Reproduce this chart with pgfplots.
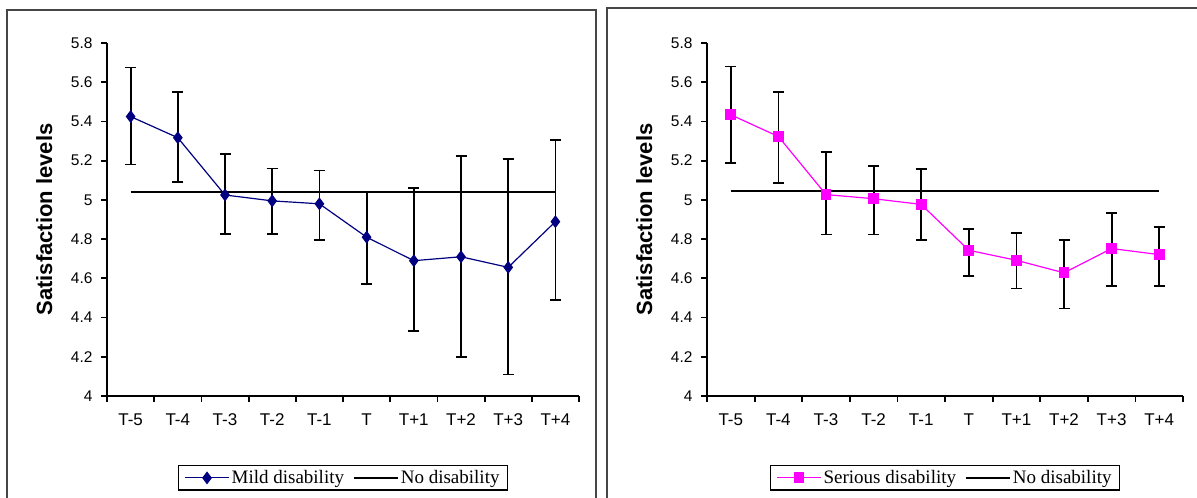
\documentclass[border=0pt]{standalone}
\usepackage{fontspec}
\setmainfont{Liberation Sans}
\newfontfamily\legendfont{Liberation Serif}
\usepackage{pgfplots}
\pgfplotsset{compat=1.18}
\usepackage{pgfplotstable}
\definecolor{navy}{RGB}{0,0,128}
\definecolor{mag}{RGB}{255,0,255}
\definecolor{frame}{RGB}{70,70,70}

\pgfplotstableread{
x y ep em
0 5.425 0.250 0.245
1 5.317 0.232 0.227
2 5.025 0.208 0.200
3 4.995 0.165 0.170
4 4.980 0.170 0.184
5 4.810 0.230 0.239
6 4.690 0.370 0.360
7 4.710 0.515 0.510
8 4.656 0.554 0.546
9 4.889 0.417 0.399
}\mild

\pgfplotstableread{
x y ep em
0 5.434 0.246 0.244
1 5.323 0.226 0.235
2 5.027 0.216 0.204
3 5.006 0.165 0.183
4 4.977 0.182 0.183
5 4.743 0.110 0.132
6 4.692 0.141 0.144
7 4.628 0.166 0.182
8 4.752 0.183 0.192
9 4.721 0.141 0.161
}\serious

\pgfplotsset{
  common/.style={
    scale only axis, height=353pt,
    ymin=4, ymax=5.8, xmin=-0.5, xmax=9.5,
    axis x line*=bottom, axis y line*=left,
    axis line style={line width=1.8pt, black},
    ytick={4,4.2,4.4,4.6,4.8,5,5.2,5.4,5.6,5.8},
    yticklabels={4,4.2,4.4,4.6,4.8,5,5.2,5.4,5.6,5.8},
    xtick={0,1,2,3,4,5,6,7,8,9},
    xticklabels={T-5,T-4,T-3,T-2,T-1,T,T+1,T+2,T+3,T+4},
    minor xtick={-0.5,0.5,1.5,2.5,3.5,4.5,5.5,6.5,7.5,8.5,9.5},
    tick align=outside,
    major tick length=6pt, minor tick length=6pt,
    every major x tick/.append style={draw=none},
    every tick/.append style={line width=1.8pt, black},
    yticklabel style={font=\fontsize{15.5}{18}\selectfont, xshift=-5pt},
    xticklabel style={font=\fontsize{17}{20}\selectfont, yshift=-8pt},
    ylabel={Satisfaction levels},
    ylabel style={font=\fontsize{22}{26}\selectfont\bfseries, anchor=center},
    legend columns=2,
    legend style={font=\legendfont\fontsize{19}{22}\selectfont, draw=black, line width=1.5pt,
      at={(0.5,-0.232)}, anchor=center, inner xsep=6pt, inner ysep=3pt,
      /tikz/every even column/.append style={column sep=7pt}},
    legend image code/.code={\draw[mark repeat=2,mark phase=2,##1] plot coordinates {(0pt,0pt) (22pt,0pt) (44pt,0pt)};},
  }
}

\begin{document}
\begin{tikzpicture}
\useasboundingbox (0pt,0pt) rectangle (1197pt,498pt);
\draw[line width=2pt, frame] (7pt,-10pt) rectangle (596pt,488pt);
\draw[line width=2pt, frame] (607pt,-10pt) rectangle (1215pt,490pt);

\begin{axis}[common, width=472pt, at={(107pt,102pt)}, anchor=south west,
  ylabel style={at={(axis description cs:-0.133,0.5)}}]
\addplot[navy, line width=1.2pt, mark=diamond*, mark size=5.5pt, mark options={solid, fill=navy},
  error bars/.cd, y dir=both, y explicit,
  error bar style={black, line width=1.8pt},
  error mark options={rotate=90, black, mark size=5.5pt, line width=1.8pt}]
  table[x=x, y=y, y error plus=ep, y error minus=em] {\mild};
\addlegendentry{Mild disability}
\addplot[black, line width=1.8pt, no marks] coordinates {(0,5.04) (9,5.04)};
\addlegendentry{No disability}
\end{axis}

\begin{axis}[common, width=476pt, at={(707pt,102pt)}, anchor=south west,
  ylabel style={at={(axis description cs:-0.132,0.5)}}]
\addplot[mag, line width=1.2pt, mark=square*, mark size=4.8pt, mark options={solid, fill=mag},
  error bars/.cd, y dir=both, y explicit,
  error bar style={black, line width=1.8pt},
  error mark options={rotate=90, black, mark size=5.5pt, line width=1.8pt}]
  table[x=x, y=y, y error plus=ep, y error minus=em] {\serious};
\addlegendentry{Serious disability}
\addplot[black, line width=1.8pt, no marks] coordinates {(0,5.045) (9,5.045)};
\addlegendentry{No disability}
\end{axis}
\end{tikzpicture}
\end{document}
